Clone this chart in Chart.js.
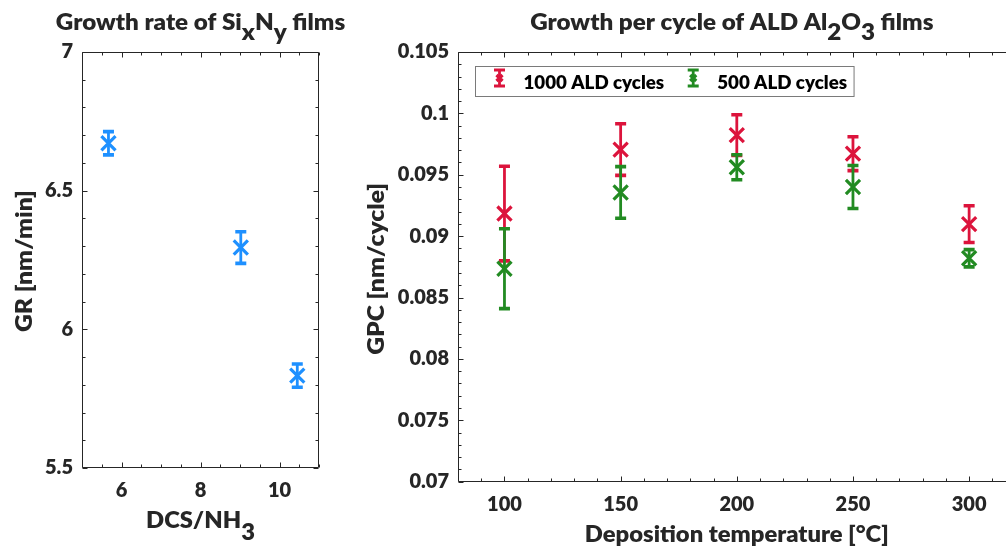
<!DOCTYPE html>
<html><head><meta charset="utf-8">
<script src="https://cdn.jsdelivr.net/npm/chart.js@4.4.1/dist/chart.umd.min.js"></script>
<style>
html,body{margin:0;padding:0;overflow:hidden;background:#fff;width:1006px;height:547px;}
#w1{position:absolute;left:0;top:0;width:350px;height:547px;}
#w2{position:absolute;left:340px;top:0;width:690px;height:547px;}
</style></head><body>
<div id="w1"><canvas id="c1"></canvas></div>
<div id="w2"><canvas id="c2"></canvas></div>
<script>
// ---- Left chart data: growth rate of SixNy films
const siRatio = [5.67, 9.02, 10.45];
const siGR = [6.671, 6.295, 5.833];
const siGRErr = [0.042, 0.057, 0.042];
const siXTicks = [6, 8, 10];
const siYTicks = [5.5, 6, 6.5, 7];

// ---- Right chart data: GPC of ALD Al2O3 films
const temps = [100, 150, 200, 250, 300];
const gpc1000 = [0.09184, 0.09705, 0.09823, 0.09672, 0.09098];
const gpc1000Err = [0.00385, 0.0021, 0.00166, 0.00138, 0.0015];
const gpc500 = [0.08735, 0.09356, 0.09561, 0.0940, 0.0882];
const gpc500Err = [0.00325, 0.0021, 0.00102, 0.00175, 0.0007];
const tempTicks = [100, 150, 200, 250, 300];
const gpcTicks = [0.07, 0.075, 0.08, 0.085, 0.09, 0.095, 0.1, 0.105];
const seriesLabels = ['1000 ALD cycles', '500 ALD cycles'];

const FONT = 'Lato';
const WT = '800';
const TXT = '#262626';

function drawRich(ctx, segs, cx, cy, size, rot, subDy, sx) {
  ctx.save();
  ctx.font = WT + ' ' + size + 'px ' + FONT;
  ctx.fillStyle = TXT;
  ctx.textBaseline = 'alphabetic';
  ctx.textAlign = 'left';
  const w = segs.reduce((s, g) => s + ctx.measureText(g[0]).width, 0);
  ctx.translate(cx, cy);
  if (rot) ctx.rotate(rot);
  ctx.scale(sx || 1, 1);
  let x = -w / 2;
  for (const [t, sub] of segs) {
    ctx.fillText(t, x, sub ? subDy : 0);
    x += ctx.measureText(t).width;
  }
  ctx.restore();
}

const framePlugin = {
  id: 'frame',
  afterDraw(chart, args, o) {
    const { ctx, chartArea: a, scales: { x, y } } = chart;
    ctx.save();
    ctx.strokeStyle = TXT;
    ctx.lineWidth = 1;
    const L = Math.round(a.left) + 0.5, R = Math.round(a.right) - 0.5;
    const T = Math.round(a.top) + 0.5, B = Math.round(a.bottom) - 0.5;
    ctx.beginPath();
    ctx.moveTo(L, T); ctx.lineTo(R, T);
    ctx.lineTo(R, B);
    ctx.lineTo(L, B); ctx.lineTo(L, T);
    const isMajor = (v, arr, eps) => arr.some(t => Math.abs(t - v) < eps);
    const nx = Math.round((x.max - x.min) / o.xMinor);
    for (let i = 0; i <= nx; i++) {
      const v = x.min + i * o.xMinor;
      const len = isMajor(v, o.xMajor, o.xMinor / 10) ? 5 : 3;
      const px = Math.round(x.getPixelForValue(v)) + 0.5;
      ctx.moveTo(px, B); ctx.lineTo(px, B - len);
      ctx.moveTo(px, T); ctx.lineTo(px, T + len);
    }
    const ny = Math.round((y.max - y.min) / o.yMinor);
    for (let i = 0; i <= ny; i++) {
      const v = y.min + i * o.yMinor;
      const len = isMajor(v, o.yMajor, o.yMinor / 10) ? 5 : 3;
      const py = Math.round(y.getPixelForValue(v)) + 0.5;
      ctx.moveTo(L, py); ctx.lineTo(L + len, py);
      ctx.moveTo(R, py); ctx.lineTo(R - len, py);
    }
    ctx.stroke();
    ctx.restore();
    // titles
    const cx = (a.left + a.right) / 2;
    const cy = (a.top + a.bottom) / 2;
    drawRich(ctx, o.title, cx + (o.titleDx || 0), 30, 22, 0, 10, 1.1);
    drawRich(ctx, o.xTitle, cx, o.xTitleY, 22, 0, 12, 1.08);
    drawRich(ctx, o.yTitle, o.yTitleX, cy + (o.yTitleDy || 0), 22, -Math.PI / 2, 10, 1.12);
  }
};

const errPlugin = {
  id: 'errbars',
  beforeDatasetsDraw(chart) {
    const { ctx, scales: { y } } = chart;
    chart.data.datasets.forEach((ds, i) => {
      const meta = chart.getDatasetMeta(i);
      ctx.save();
      ctx.strokeStyle = ds.borderColor;
      meta.data.forEach((pt, j) => {
        const v = ds.data[j].y, e = ds.errors[j];
        const yt = y.getPixelForValue(v + e), yb = y.getPixelForValue(v - e);
        ctx.lineWidth = 2.8;
        ctx.beginPath(); ctx.moveTo(pt.x, yt); ctx.lineTo(pt.x, yb); ctx.stroke();
        ctx.lineWidth = 3.6;
        ctx.beginPath();
        ctx.moveTo(pt.x - 5.5, yt); ctx.lineTo(pt.x + 5.5, yt);
        ctx.moveTo(pt.x - 5.5, yb); ctx.lineTo(pt.x + 5.5, yb);
        ctx.stroke();
      });
      ctx.restore();
    });
  }
};

const legendPlugin = {
  id: 'boxlegend',
  afterDraw(chart, args, o) {
    if (!o.show) return;
    const { ctx, chartArea: a } = chart;
    const bx = Math.round(a.left + 17) + 0.5, by = Math.round(a.top + 14) + 0.5;
    const sx = 1.04;
    ctx.save();
    ctx.font = WT + ' 18px ' + FONT;
    let x = bx + 24;
    const items = chart.data.datasets.map(ds => {
      const w = ctx.measureText(ds.label).width * sx;
      const it = { ds, icon: x, text: x + 24, w };
      x = x + 24 + w + 29;
      return it;
    });
    const last = items[items.length - 1];
    const bw = last.text + last.w + 7 - bx;
    ctx.fillStyle = '#fff';
    ctx.fillRect(bx, by, bw, 30);
    ctx.strokeStyle = '#7a7a7a';
    ctx.lineWidth = 1;
    ctx.strokeRect(bx, by, bw, 30);
    items.forEach(it => {
      const c = it.ds.borderColor, cx = it.icon, yt = by + 3.5, yb = by + 19.5;
      ctx.strokeStyle = c;
      ctx.lineWidth = 2.8;
      ctx.beginPath(); ctx.moveTo(cx, yt); ctx.lineTo(cx, yb); ctx.stroke();
      ctx.lineWidth = 3.2;
      ctx.beginPath();
      ctx.moveTo(cx - 5.5, yt); ctx.lineTo(cx + 5.5, yt);
      ctx.moveTo(cx - 5.5, yb); ctx.lineTo(cx + 5.5, yb);
      const m = (yt + yb) / 2;
      ctx.moveTo(cx - 3, m - 3); ctx.lineTo(cx + 3, m + 3);
      ctx.moveTo(cx - 3, m + 3); ctx.lineTo(cx + 3, m - 3);
      ctx.stroke();
      ctx.fillStyle = '#000';
      ctx.textBaseline = 'alphabetic';
      ctx.save();
      ctx.translate(it.text, by + 22.5);
      ctx.scale(sx, 1);
      ctx.fillText(it.ds.label, 0, 0);
      ctx.restore();
    });
    ctx.restore();
  }
};

function tickFont() { return { family: FONT, weight: WT, size: 20 }; }

function makeScales(o) {
  return {
    x: {
      type: 'linear', min: o.xmin, max: o.xmax,
      grid: { display: false, drawTicks: false }, border: { display: false },
      afterBuildTicks: s => { s.ticks = o.xTicks.map(v => ({ value: v })); },
      afterFit: s => { s.height = o.xH; },
      ticks: { font: tickFont(), color: TXT, padding: o.xPad, maxRotation: 0, autoSkip: false, callback: v => String(v) }
    },
    y: {
      type: 'linear', min: o.ymin, max: o.ymax,
      grid: { display: false, drawTicks: false }, border: { display: false },
      afterBuildTicks: s => { s.ticks = o.yTicks.map(v => ({ value: v })); },
      afterFit: s => { s.width = o.yW; },
      ticks: { font: tickFont(), color: TXT, padding: 9, autoSkip: false, callback: v => String(v) }
    }
  };
}

const pts = (xs, ys) => xs.map((v, i) => ({ x: v, y: ys[i] }));
const markerDs = (label, xs, ys, errs, color) => ({
  label, data: pts(xs, ys), errors: errs,
  borderColor: color, backgroundColor: color,
  pointStyle: 'crossRot', pointRadius: 10, pointBorderWidth: 3.2, showLine: false
});

new Chart(document.getElementById('c1'), {
  type: 'scatter',
  data: { datasets: [markerDs('SixNy', siRatio, siGR, siGRErr, '#1e90ff')] },
  options: {
    responsive: true, maintainAspectRatio: false, animation: false,
    layout: { padding: { top: 52, right: 31, left: 0, bottom: 0 } },
    scales: makeScales({ xmin: 5, xmax: 11, ymin: 5.5, ymax: 7, xTicks: siXTicks, yTicks: siYTicks, xH: 79, yW: 82, xPad: 11 }),
    plugins: {
      legend: { display: false }, tooltip: { enabled: false },
      frame: {
        xMinor: 0.5, yMinor: 0.1, xMajor: siXTicks, yMajor: siYTicks,
        title: [['Growth rate of Si'], ['x', 1], ['N'], ['y', 1], [' films']],
        xTitle: [['DCS/NH'], ['3', 1]], xTitleY: 528,
        yTitle: [['GR [nm/min]']], yTitleX: 32, yTitleDy: 1
      },
      boxlegend: { show: false }
    }
  },
  plugins: [errPlugin, framePlugin, legendPlugin]
});

new Chart(document.getElementById('c2'), {
  type: 'scatter',
  data: {
    datasets: [
      markerDs(seriesLabels[0], temps, gpc1000, gpc1000Err, '#dc143c'),
      markerDs(seriesLabels[1], temps, gpc500, gpc500Err, '#228b22')
    ]
  },
  options: {
    responsive: true, maintainAspectRatio: false, animation: false,
    layout: { padding: { top: 52, right: 14.4, left: 0, bottom: 0 } },
    scales: makeScales({ xmin: 80, xmax: 320, ymin: 0.07, ymax: 0.105, xTicks: tempTicks, yTicks: gpcTicks, xH: 65.3, yW: 118, xPad: 11 }),
    plugins: {
      legend: { display: false }, tooltip: { enabled: false },
      frame: {
        xMinor: 10, yMinor: 0.001, xMajor: tempTicks, yMajor: gpcTicks,
        title: [['Growth per cycle of ALD Al'], ['2', 1], ['O'], ['3', 1], [' films']], titleDx: -5,
        xTitle: [['Deposition temperature [°C]']], xTitleY: 541.5,
        yTitle: [['GPC [nm/cycle]']], yTitleX: 44, yTitleDy: 2
      },
      boxlegend: { show: true }
    }
  },
  plugins: [errPlugin, framePlugin, legendPlugin]
});
</script>
</body></html>
